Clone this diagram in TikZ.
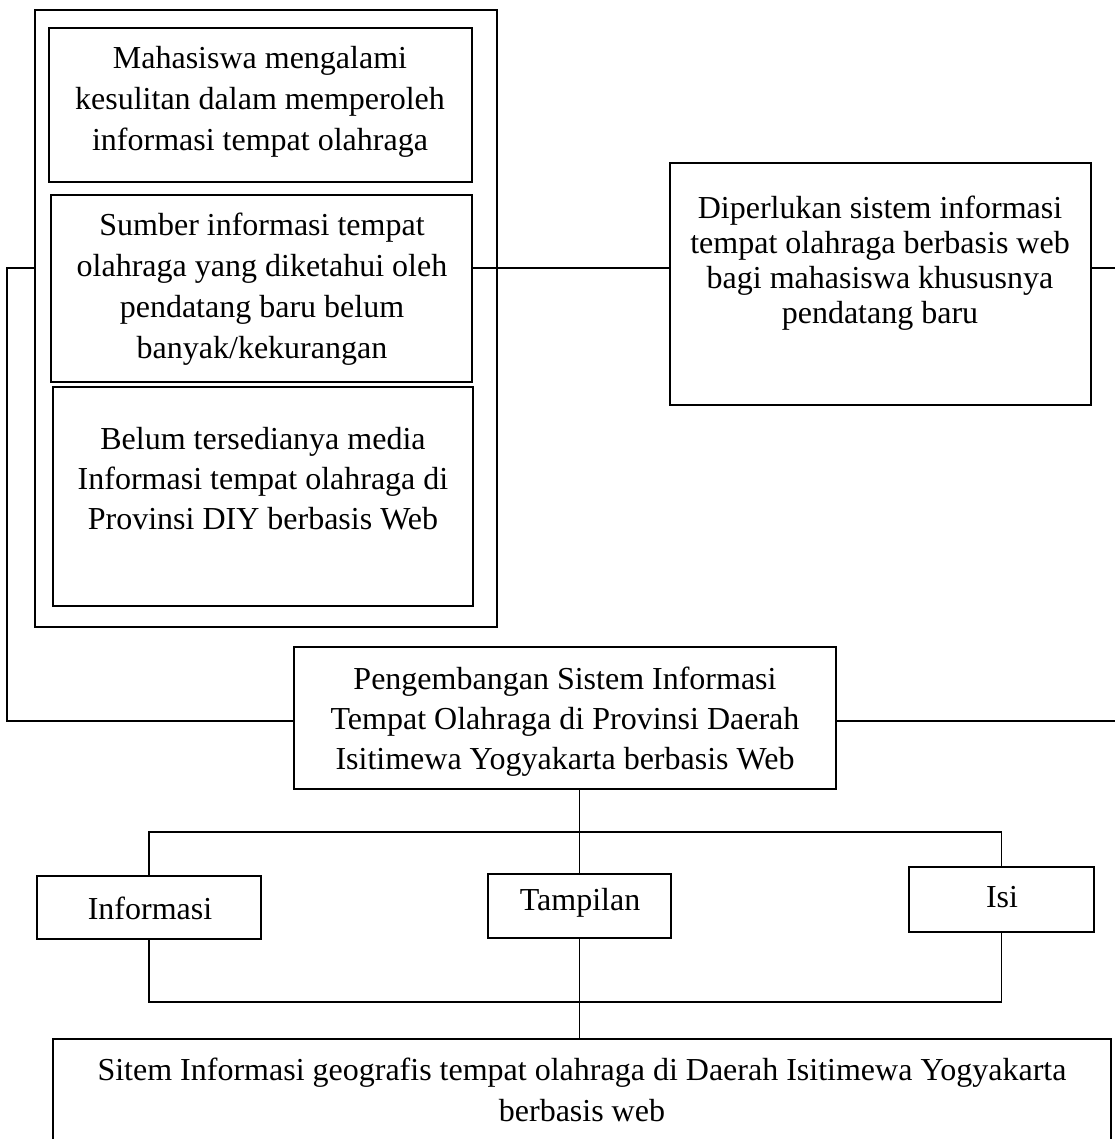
\documentclass[tikz,border=0pt]{standalone}
\usepackage{fontspec}
\setmainfont{Liberation Serif}
\begin{document}
\begin{tikzpicture}[x=1pt,y=-1pt,
  box/.style={draw, line width=1.1pt, inner sep=0pt, outer sep=0pt},
  txt/.style={align=center, inner sep=0pt, font=\fontsize{32}{41}\selectfont},
  link/.style={line width=1.1pt}]
\useasboundingbox (0,0) rectangle (1115,1139);
\clip (0,0) rectangle (1115,1139);
% left group
\node[box, minimum width=462pt, minimum height=617pt] (outer) at (266,318.5) {};
\node[box, minimum width=423pt, minimum height=154pt] (b1) at (260.5,105) {};
\node[txt] (b1t) at (260,102) {Mahasiswa mengalami\\kesulitan dalam memperoleh\\informasi tempat olahraga};
\node[box, minimum width=421pt, minimum height=187pt] (b2) at (261.5,288.5) {};
\node[txt] (b2t) at (262,289) {Sumber informasi tempat\\olahraga yang diketahui oleh\\pendatang baru belum\\banyak/kekurangan};
\node[box, minimum width=420pt, minimum height=219pt] (b3) at (263,496.5) {};
\node[txt, font=\fontsize{32}{40}\selectfont] (b3t) at (263,479) {Belum tersedianya media\\Informasi tempat olahraga di\\Provinsi DIY berbasis Web};
% right box
\node[box, minimum width=421pt, minimum height=242pt] (dip) at (880.5,284) {};
\node[txt, font=\fontsize{32}{35}\selectfont] (dipt) at (880,263) {Diperlukan sistem informasi\\tempat olahraga berbasis web\\bagi mahasiswa khususnya\\pendatang baru};
% central box
\node[box, minimum width=542pt, minimum height=142pt] (peng) at (565,718) {};
\node[txt, font=\fontsize{32}{40}\selectfont] (pengt) at (565,722) {Pengembangan Sistem Informasi\\Tempat Olahraga di Provinsi Daerah\\Isitimewa Yogyakarta berbasis Web};
% three aspects
\node[box, minimum width=224pt, minimum height=63pt] (info) at (149,907.5) {};
\node[txt] (infot) at (150,908) {Informasi};
\node[box, minimum width=183pt, minimum height=64pt] (tamp) at (579.5,906) {};
\node[txt] (tampt) at (580,903) {Tampilan};
\node[box, minimum width=185pt, minimum height=65pt] (isi) at (1001.5,899.5) {};
\node[txt] (isit) at (1002,897) {Isi};
% bottom box
\node[box, minimum width=1058pt, minimum height=200pt] (bot) at (582,1139) {};
\node[txt] (bott) at (582,1090) {Sitem Informasi geografis tempat olahraga di Daerah Isitimewa Yogyakarta\\berbasis web};
% connectors
\coordinate (L1) at (7,268);
\coordinate (L2) at (7,721);
\coordinate (R1) at (1115,268);
\coordinate (R2) at (1115,721);
\coordinate (busA) at (0,832);
\coordinate (busB) at (0,1002);
\draw[link] (outer.west |- L1) -- (L1) -- (L2) -- (peng.west |- L2);
\draw[link] (b2.east |- R1) -- (dip.west |- R1);
\draw[link] (dip.east |- R1) -- (R1);
\draw[link] (peng.east |- R2) -- (R2);
\draw[link] (peng.south -| tamp.north) -- (tamp.north);
\draw[link] (info.north) -- (info.north |- busA) -- (isi.north |- busA) -- (isi.north);
\draw[link] (info.south) -- (info.south |- busB) -- (isi.south |- busB) -- (isi.south);
\draw[link] (tamp.south) -- (bot.north -| tamp.south);
\end{tikzpicture}
\end{document}
